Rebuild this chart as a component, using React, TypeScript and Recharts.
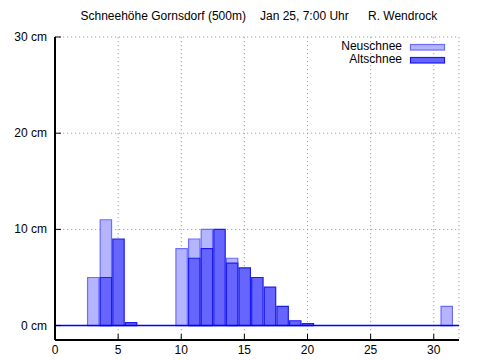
import React from 'react';
import { ComposedChart, Bar, XAxis, YAxis, CartesianGrid, ReferenceLine, Legend } from 'recharts';

const days = [3, 4, 5, 6, 10, 11, 12, 13, 14, 15, 16, 17, 18, 19, 20, 31];
const neuschnee = [5, 11, null, null, 8, 9, 10, null, 7, null, null, null, null, null, null, 2];
const altschnee = [null, 5, 9, 0.3, null, 7, 8, 10, 6.5, 6, 5, 4, 2, 0.5, 0.2, null];
const xTicks = [0, 5, 10, 15, 20, 25, 30];
const yTicks = [0, 10, 20, 30];
const titleParts = ['Schneehöhe Gornsdorf (500m)', 'Jan 25, 7:00 Uhr', 'R. Wendrock'];
const seriesNames = ['Neuschnee', 'Altschnee'];

const data = days.map((d, i) => ({ day: d, neu: neuschnee[i], alt: altschnee[i] }));

const W = 480;
const H = 360;
const M = { top: 37, right: 21, left: 0, bottom: 0 };
const Y_W = 55;
const X_H = 20;
const X_DOMAIN: [number, number] = [0, 32];
const Y_DOMAIN: [number, number] = [-1.5, 30];
const PLOT_W = W - M.left - M.right - Y_W;
const BAR_W = PLOT_W / (X_DOMAIN[1] - X_DOMAIN[0]);

const FONT = '"Liberation Sans", Arial, sans-serif';
const STYLES: Record<string, { fill: string; stroke: string }> = {
  Neuschnee: { fill: '#b4b4ff', stroke: '#6c6cff' },
  Altschnee: { fill: '#6666ff', stroke: '#1c1cee' },
};
const TICK_LEN = 6;

const BottomTick = (p: any) => (
  <g>
    <line x1={p.x} x2={p.x} y1={p.y} y2={p.y - TICK_LEN} stroke="#000" strokeWidth={1} />
    <text x={p.x} y={p.y + 14} textAnchor="middle" fontSize={12} fontFamily={FONT} fill="#000">
      {p.payload.value}
    </text>
  </g>
);
const TopTick = (p: any) => (
  <line x1={p.x} x2={p.x} y1={p.y} y2={p.y + TICK_LEN} stroke="#000" strokeWidth={1} />
);
const LeftTick = (p: any) => (
  <g>
    <line x1={p.x} x2={p.x + TICK_LEN} y1={p.y} y2={p.y} stroke="#000" strokeWidth={1} />
    <text x={p.x - 8} y={p.y + 4} textAnchor="end" fontSize={12} fontFamily={FONT} fill="#000">
      {`${p.payload.value} cm`}
    </text>
  </g>
);
const RightTick = (p: any) => (
  <line x1={p.x} x2={p.x - TICK_LEN} y1={p.y} y2={p.y} stroke="#000" strokeWidth={1} />
);

const LegendContent = () => (
  <svg width={W} height={70} style={{ display: 'block' }}>
    <g fontFamily={FONT} fontSize={12} fill="#000">
      <text x={80.5} y={19.5}>{titleParts[0]}</text>
      <text x={260} y={19.5}>{titleParts[1]}</text>
      <text x={368} y={19.5}>{titleParts[2]}</text>
    </g>
    {seriesNames.map((n, i) => (
      <g key={n}>
        <text x={402} y={50 + i * 13} textAnchor="end" fontFamily={FONT} fontSize={12} fill="#000">
          {n}
        </text>
        <rect x={410.5} y={44.5 + i * 13} width={34} height={5.5} fill={STYLES[n].fill} stroke={STYLES[n].stroke} strokeWidth={1.2} />
      </g>
    ))}
  </svg>
);

export default function App() {
  return (
    <div style={{ position: 'absolute', left: 0, top: 0, width: W, height: H, background: '#fff' }}>
      <ComposedChart width={W} height={H} data={data} margin={M}>
        <CartesianGrid
          xAxisId="bottom"
          yAxisId="l"
          stroke="#a0a0a0"
          strokeDasharray="1.2 2.8"
          strokeWidth={1}
        />
        <XAxis
          xAxisId="bottom"
          dataKey="day"
          type="number"
          domain={X_DOMAIN}
          ticks={xTicks}
          interval={0}
          height={X_H}
          tickSize={0}
          tickMargin={0}
          tick={BottomTick}
          axisLine={{ stroke: '#000', strokeWidth: 2 }}
          allowDataOverflow
        />
        <XAxis
          xAxisId="top"
          orientation="top"
          dataKey="day"
          type="number"
          domain={X_DOMAIN}
          ticks={xTicks}
          interval={0}
          height={0}
          tickSize={0}
          tickMargin={0}
          tick={TopTick}
          axisLine={{ stroke: '#000', strokeWidth: 2 }}
          allowDataOverflow
        />
        <YAxis
          yAxisId="l"
          type="number"
          domain={Y_DOMAIN}
          ticks={yTicks}
          interval={0}
          width={Y_W}
          tickSize={0}
          tickMargin={0}
          tick={LeftTick}
          axisLine={{ stroke: '#000', strokeWidth: 2 }}
          allowDataOverflow
        />
        <YAxis
          yAxisId="r"
          orientation="right"
          type="number"
          domain={Y_DOMAIN}
          ticks={yTicks}
          interval={0}
          width={0}
          tickSize={0}
          tickMargin={0}
          tick={RightTick}
          axisLine={{ stroke: '#000', strokeWidth: 2 }}
          allowDataOverflow
        />
        <Legend
          layout="vertical"
          align="center"
          verticalAlign="middle"
          content={LegendContent}
          wrapperStyle={{ position: 'absolute', left: 0, top: 0, width: W, height: 70 }}
        />
        <Bar
          xAxisId="bottom"
          yAxisId="l"
          dataKey="neu"
          name={seriesNames[0]}
          barSize={BAR_W}
          fill={STYLES.Neuschnee.fill}
          stroke={STYLES.Neuschnee.stroke}
          strokeWidth={1.2}
          isAnimationActive={false}
        />
        <Bar
          xAxisId="top"
          yAxisId="l"
          dataKey="alt"
          name={seriesNames[1]}
          barSize={BAR_W}
          fill={STYLES.Altschnee.fill}
          stroke={STYLES.Altschnee.stroke}
          strokeWidth={1.2}
          isAnimationActive={false}
        />
        <ReferenceLine xAxisId="bottom" yAxisId="l" y={0} stroke="#0000ff" strokeWidth={1.5} />
      </ComposedChart>
    </div>
  );
}
